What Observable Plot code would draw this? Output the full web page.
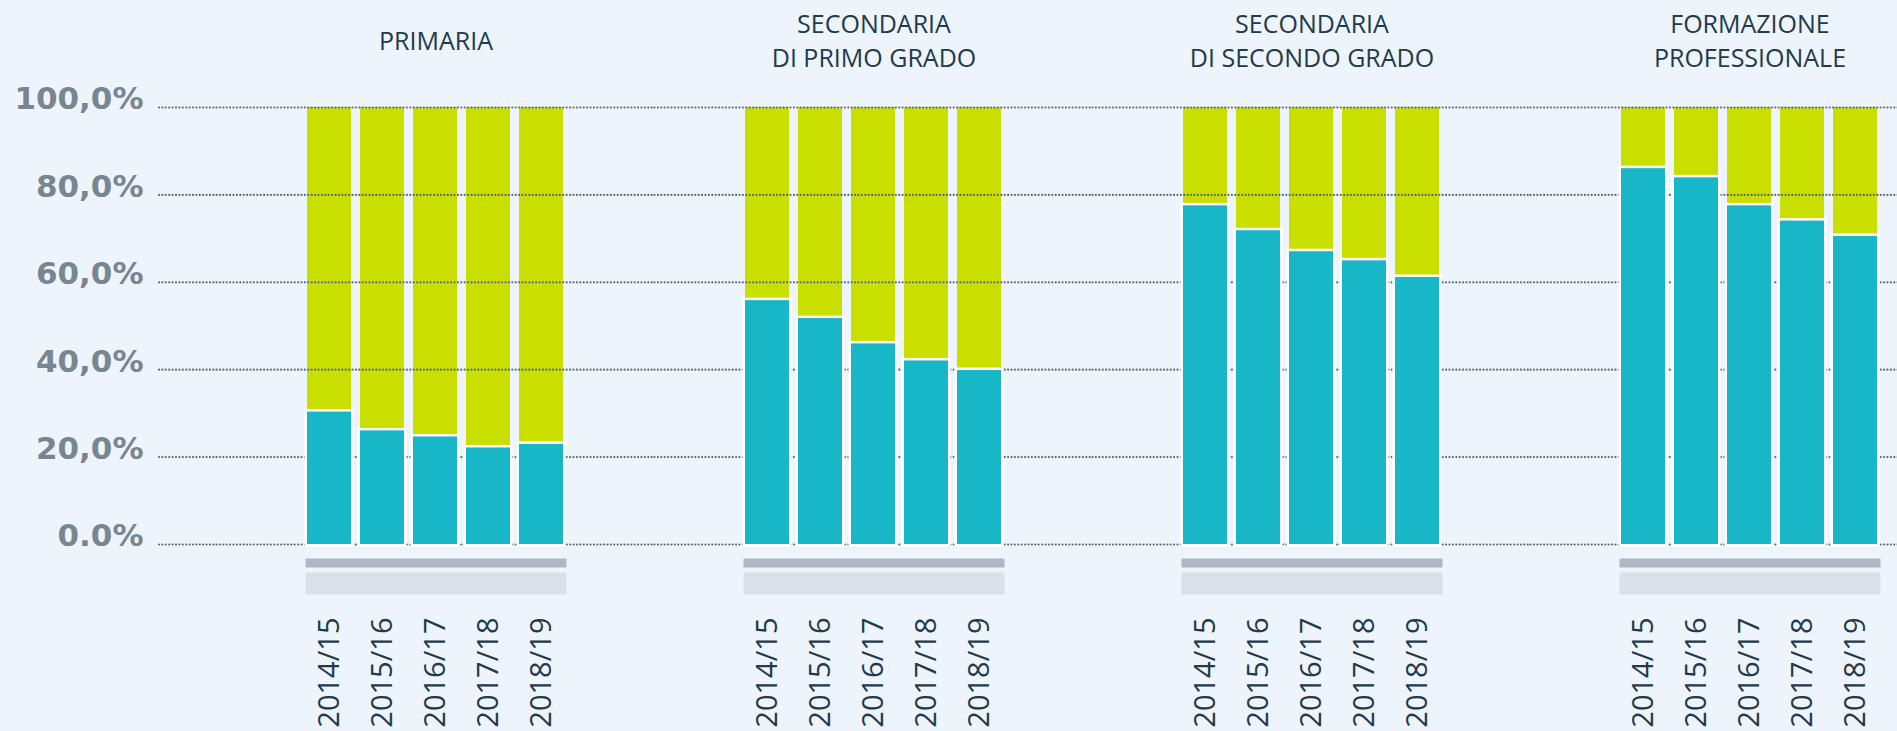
<!DOCTYPE html>
<html>
<head>
<meta charset="utf-8">
<script src="https://cdn.jsdelivr.net/npm/d3@7"></script>
<script src="https://cdn.jsdelivr.net/npm/@observablehq/plot@0.6"></script>
<style>
  html, body { margin: 0; padding: 0; background: #edf4fb; }
  #chart { width: 1897px; height: 731px; overflow: hidden; }
</style>
</head>
<body>
<div id="chart"></div>
<script>
// ---- data ----
const groups = ["PRIMARIA", "SECONDARIA\nDI PRIMO GRADO", "SECONDARIA\nDI SECONDO GRADO", "FORMAZIONE\nPROFESSIONALE"];
const years = ["2014/15", "2015/16", "2016/17", "2017/18", "2018/19"];

// teal share (lower segment), %
const tealPrimaria   = [30.3, 26.0, 24.6, 22.1, 22.9];
const tealSecPrimo   = [55.8, 51.7, 45.9, 42.0, 39.8];
const tealSecSecondo = [77.5, 71.8, 67.0, 64.9, 61.1];
const tealFormazione = [86.0, 83.9, 77.5, 74.0, 70.5];

// green share (upper segment), %
const greenPrimaria   = [69.7, 74.0, 75.4, 77.9, 77.1];
const greenSecPrimo   = [44.2, 48.3, 54.1, 58.0, 60.2];
const greenSecSecondo = [22.5, 28.2, 33.0, 35.1, 38.9];
const greenFormazione = [14.0, 16.1, 22.5, 26.0, 29.5];

const yTicks = [0, 20, 40, 60, 80, 100];
const yTickLabels = ["0.0%", "20,0%", "40,0%", "60,0%", "80,0%", "100,0%"];

// ---- table ----
const tealSeries = [tealPrimaria, tealSecPrimo, tealSecSecondo, tealFormazione];
const greenSeries = [greenPrimaria, greenSecPrimo, greenSecSecondo, greenFormazione];
const rows = groups.flatMap((g, gi) => years.map((y, yi) => ({
  group: g, year: y, teal: tealSeries[gi][yi], green: greenSeries[gi][yi]
})));

const TEAL = "#17b7c8";
const GREEN = "#c8df00";
const GRID = "#5b6878";
const dotted = { stroke: GRID, strokeWidth: 2.2, strokeDasharray: "0,3.4", strokeLinecap: "round" };

const chart = Plot.plot({
  width: 1897,
  height: 731,
  marginTop: 107,
  marginBottom: 187,
  marginLeft: 303,
  marginRight: 15,
  style: { background: "#edf4fb", fontFamily: "'Open Sans', sans-serif", color: "#233a4b" },
  fx: { domain: groups, paddingInner: 0.403, paddingOuter: 0 },
  x: { domain: years, paddingInner: 0.161, paddingOuter: 0.038 },
  y: { domain: [0, 100] },
  marks: [
    Plot.frame({ fill: "#b0b7c3", stroke: "none", insetTop: 451, insetBottom: -23 }),
    Plot.frame({ fill: "#d9e0e8", stroke: "none", insetTop: 465, insetBottom: -50 }),
    Plot.barY(rows, { fx: "group", x: "year", y1: "teal", y2: d => d.teal + d.green, fill: GREEN }),
    Plot.ruleY(yTicks, { ...dotted, insetLeft: -88.5, insetRight: -88.5 }),
    Plot.ruleY(yTicks.map(v => ({ v, group: groups[0] })), { ...dotted, fx: "group", y: "v", insetLeft: -146, insetRight: 350.5 }),
    Plot.barY(rows, { fx: "group", x: "year", y: "teal", fill: TEAL, stroke: "white", strokeWidth: 5, paintOrder: "stroke" }),
    Plot.axisFx({ anchor: "top", tickSize: 0, tickPadding: 68, lineAnchor: "middle", lineHeight: 1.36, fontSize: 25, label: null, fill: "#233a4b" }),
    Plot.axisX({ anchor: "bottom", tickSize: 0, tickRotate: -90, tickPadding: 73, fontSize: 29, label: null, fill: "#233a4b" }),
    Plot.axisY({ ticks: yTicks, tickFormat: v => yTickLabels[yTicks.indexOf(v)], tickSize: 0, tickPadding: 162, dy: -8,
                 fontSize: 31, fontWeight: "bold", fontFamily: "DejaVu Sans", fill: "#7a8592", label: null })
  ]
});
document.getElementById("chart").append(chart);
</script>
</body>
</html>
